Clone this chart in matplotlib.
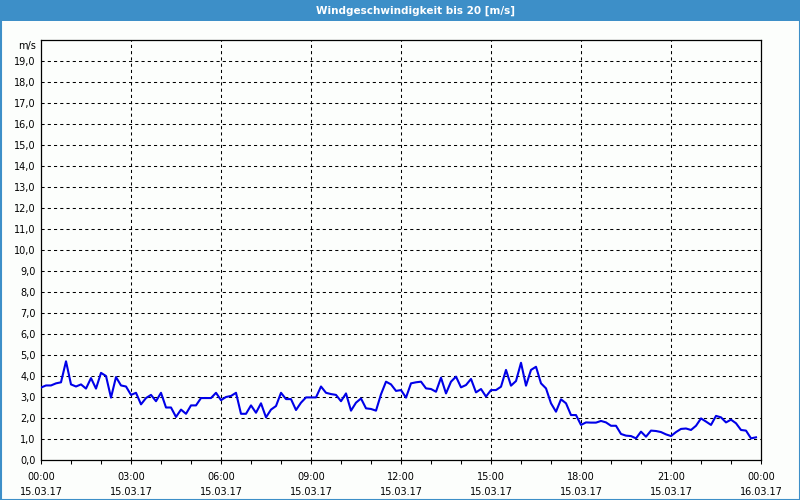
import numpy as np
import matplotlib.pyplot as plt
from matplotlib.patches import Rectangle

plt.rcParams["font.family"] = ["DejaVu Sans"]

# wind speed every 10 minutes, 15.03.17 00:00 .. 23:50
wind = [
    3.45, 3.55, 3.55, 3.65, 3.7, 4.7, 3.6, 3.5, 3.6, 3.4,
    3.9, 3.4, 4.15, 4.0, 2.97, 3.95, 3.55, 3.5, 3.1, 3.2,
    2.65, 2.95, 3.1, 2.8, 3.2, 2.5, 2.5, 2.05, 2.4, 2.2,
    2.6, 2.6, 2.95, 2.95, 2.95, 3.2, 2.85, 3.0, 3.05, 3.2,
    2.2, 2.2, 2.6, 2.25, 2.7, 2.03, 2.4, 2.57, 3.2, 2.9,
    2.9, 2.38, 2.73, 2.98, 2.98, 2.98, 3.5, 3.2, 3.14, 3.1,
    2.8, 3.17, 2.35, 2.73, 2.93, 2.46, 2.43, 2.35, 3.13, 3.73,
    3.6, 3.29, 3.33, 2.97, 3.65, 3.7, 3.73, 3.41, 3.38, 3.25,
    3.92, 3.17, 3.73, 3.97, 3.46, 3.57, 3.86, 3.22, 3.38, 3.02,
    3.33, 3.33, 3.49, 4.29, 3.54, 3.76, 4.63, 3.54, 4.29, 4.44,
    3.65, 3.41, 2.7, 2.3, 2.89, 2.7, 2.14, 2.14, 1.67, 1.79,
    1.78, 1.78, 1.86, 1.79, 1.63, 1.63, 1.24, 1.16, 1.14, 1.03,
    1.35, 1.11, 1.4, 1.38, 1.33, 1.22, 1.14, 1.33, 1.48, 1.5,
    1.43, 1.63, 1.98, 1.83, 1.67, 2.1, 2.03, 1.79, 1.92, 1.75,
    1.43, 1.4, 1.03, 1.08,
]
hours = np.arange(len(wind)) / 6.0

x_ticks = [0, 3, 6, 9, 12, 15, 18, 21, 24]
x_labels = [
    "00:00\n15.03.17", "03:00\n15.03.17", "06:00\n15.03.17",
    "09:00\n15.03.17", "12:00\n15.03.17", "15:00\n15.03.17",
    "18:00\n15.03.17", "21:00\n15.03.17", "00:00\n16.03.17",
]
y_ticks = list(range(0, 20))
y_labels = [f"{v},0" for v in y_ticks]

title = "Windgeschwindigkeit bis 20 [m/s]"
blue_frame = "#3d8fc8"

fig = plt.figure(figsize=(8, 5), dpi=100, facecolor="#fcfefc")

# title bar and outer border
fig.patches.append(Rectangle((0, 1 - 21 / 500), 1, 21 / 500,
                             transform=fig.transFigure, facecolor=blue_frame,
                             edgecolor="none", zorder=0))
fig.patches.append(Rectangle((0.5 / 800, 0.5 / 500), 799 / 800, 499 / 500,
                             transform=fig.transFigure, facecolor="none",
                             edgecolor=blue_frame, linewidth=1.5, zorder=0))
fig.text(415 / 800, 1 - 10.5 / 500, title, color="white", fontsize=7.5,
         fontweight="bold", ha="center", va="center")

ax = fig.add_axes([41 / 800, 40 / 500, 720 / 800, 420 / 500])
ax.set_facecolor("#fcfefc")

ax.plot(hours, wind, color="#0000e8", linewidth=1.5, zorder=3)

ax.set_xlim(0, 24)
ax.set_ylim(0, 20)

ax.set_xticks(x_ticks)
ax.set_xticklabels(x_labels, fontsize=7, linespacing=1.55)
ax.set_xticks(np.arange(0, 25, 1), minor=True)
ax.set_yticks(y_ticks)
ax.set_yticklabels(y_labels, fontsize=7)

ax.tick_params(axis="x", which="both", direction="out", length=3,
               width=0.75, pad=6, colors="black")
ax.tick_params(axis="y", length=0, pad=4)

# dashed grid, inner lines only
for h in x_ticks[1:-1]:
    ax.axvline(h, color="black", linewidth=0.75, linestyle=(0, (3, 3)),
               zorder=1)
for v in range(1, 20):
    ax.axhline(v, color="black", linewidth=0.75, linestyle=(0, (3, 3)),
               zorder=1)

for sp in ax.spines.values():
    sp.set_linewidth(0.9)
    sp.set_color("black")

ax.text(-5 / 720, 19.7 / 20, "m/s", transform=ax.transAxes, fontsize=7,
        ha="right", va="center")

fig.savefig("out.png", dpi=100, facecolor=fig.get_facecolor())
